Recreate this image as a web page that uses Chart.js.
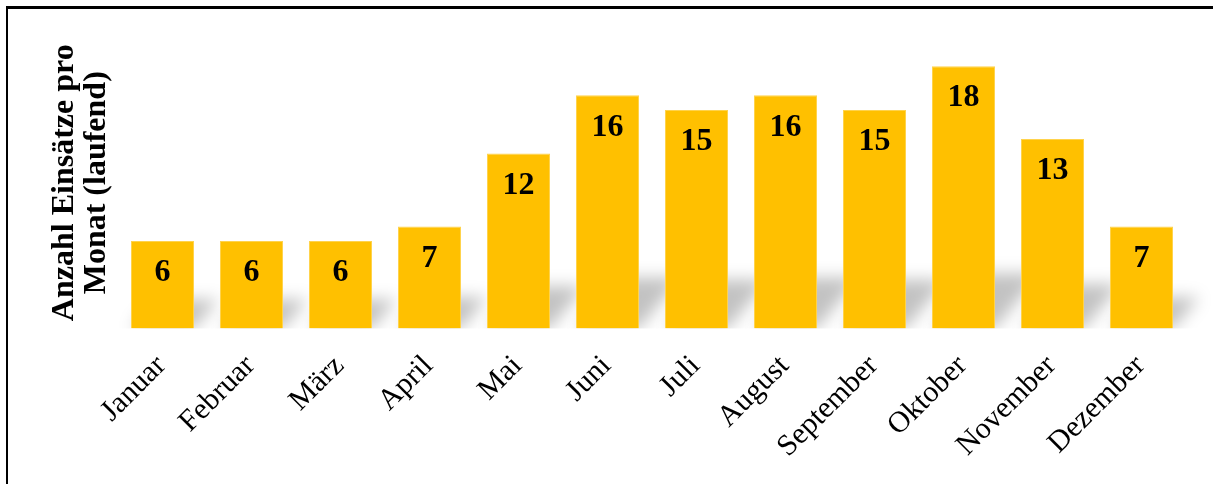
<!DOCTYPE html>
<html lang="de">
<head>
<meta charset="utf-8">
<title>Anzahl Einsätze pro Monat</title>
<script src="https://cdn.jsdelivr.net/npm/chart.js@4.4.1/dist/chart.umd.min.js"></script>
<style>
  html, body { margin: 0; padding: 0; background: #fff; }
  #wrap { position: relative; width: 1213px; height: 484px; overflow: hidden; }
  #frame {
    position: absolute; left: 6px; top: 6px; width: 1400px; height: 700px;
    border-top: 3px solid #000; border-left: 2px solid #000; box-sizing: border-box;
  }
  canvas { position: absolute; left: 0; top: 0; }
</style>
</head>
<body>
<div id="wrap">
  <div id="frame"></div>
  <canvas id="chart" width="1213" height="484"></canvas>
</div>
<script>
// ---------------------------------------------------------------------------
// Data
// ---------------------------------------------------------------------------
const months = [
  "Januar", "Februar", "März", "April", "Mai", "Juni",
  "Juli", "August", "September", "Oktober", "November", "Dezember",
];
const einsaetze = [6, 6, 6, 7, 12, 16, 15, 16, 15, 18, 13, 7];
const yTitle = ["Anzahl Einsätze pro", "Monat (laufend)"];

const SERIF = "'Liberation Serif', 'Times New Roman', serif";
const BAR_COLOR = "#FFC000";

// ---------------------------------------------------------------------------
// Plugins
// ---------------------------------------------------------------------------

// Soft perspective shadow behind every bar (falls up and to the right).
const barShadow = {
  id: "barShadow",
  beforeDatasetsDraw(chart) {
    const { ctx, chartArea } = chart;
    const meta = chart.getDatasetMeta(0);
    ctx.save();
    ctx.beginPath();
    ctx.rect(chartArea.left, chartArea.top, chartArea.right - chartArea.left + 40,
             chartArea.bottom - chartArea.top);
    ctx.clip();
    ctx.filter = "blur(8px)";
    ctx.fillStyle = "rgba(0,0,0,0.24)";
    meta.data.forEach((bar) => {
      const { x, y, base, width } = bar.getProps(["x", "y", "base", "width"], true);
      const hgt = base - y;
      const rise = hgt * 0.15 + 16;
      const skew = hgt * 0.12 + 14;
      const l = x - width / 2;
      const r = x + width / 2;
      ctx.beginPath();
      ctx.moveTo(l, base);
      ctx.lineTo(r, base);
      ctx.lineTo(r + skew, base - rise);
      ctx.lineTo(l + skew, base - rise);
      ctx.closePath();
      ctx.fill();
    });
    ctx.restore();
  },
};

// Value labels inside the top of each bar.
const valueLabels = {
  id: "valueLabels",
  afterDatasetsDraw(chart) {
    const { ctx } = chart;
    const meta = chart.getDatasetMeta(0);
    const values = chart.data.datasets[0].data;
    ctx.save();
    ctx.font = "bold 32px " + SERIF;
    ctx.fillStyle = "#000";
    ctx.textAlign = "center";
    ctx.textBaseline = "middle";
    meta.data.forEach((bar, i) => {
      ctx.fillText(String(values[i]), bar.x, bar.y + 32);
    });
    ctx.restore();
  },
};

// ---------------------------------------------------------------------------
// Chart
// ---------------------------------------------------------------------------
new Chart(document.getElementById("chart"), {
  type: "bar",
  data: {
    labels: months,
    datasets: [{
      data: einsaetze,
      backgroundColor: BAR_COLOR,
      borderColor: "#FFD34D",
      borderWidth: 1,
      categoryPercentage: 1,
      barPercentage: 0.708,
    }],
  },
  options: {
    responsive: false,
    animation: false,
    events: [],
    layout: { padding: { left: 20, right: 27, top: 37, bottom: 0 } },
    plugins: {
      legend: { display: false },
      tooltip: { enabled: false },
    },
    scales: {
      x: {
        grid: { display: false, drawTicks: false },
        border: { display: false },
        ticks: {
          autoSkip: false,
          minRotation: 45,
          maxRotation: 45,
          padding: 20,
          labelOffset: -1,
          color: "#000",
          font: { family: SERIF, size: 30 },
        },
        afterFit(scale) { scale.height = 155.5; },
      },
      y: {
        min: 0,
        max: 20,
        grid: { display: false, drawTicks: false },
        border: { display: false },
        ticks: { display: false },
        title: {
          display: true,
          text: yTitle,
          color: "#000",
          font: { family: SERIF, size: 32, weight: "bold", lineHeight: 1.0 },
          padding: { top: 29, bottom: 5 },
        },
        afterFit(scale) { scale.width = 98; },
      },
    },
  },
  plugins: [barShadow, valueLabels],
});
</script>
</body>
</html>
